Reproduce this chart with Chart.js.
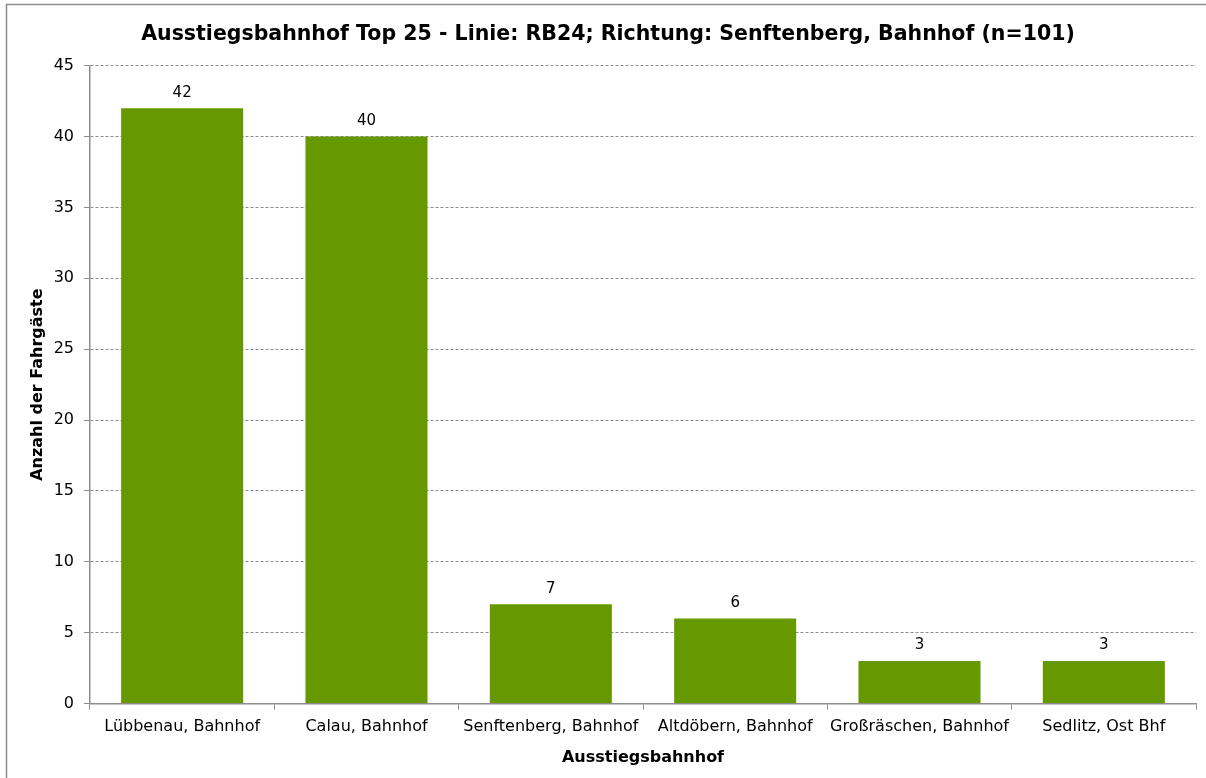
<!DOCTYPE html>
<html>
<head>
<meta charset="utf-8">
<script src="https://cdn.jsdelivr.net/npm/chart.js@4"></script>
<style>
html,body{margin:0;padding:0;background:#fff;}
#wrap{position:relative;width:1206px;height:778px;}
</style>
</head>
<body>
<div id="wrap"><canvas id="c" width="1206" height="778"></canvas></div>
<script>
const categories = ["Lübbenau, Bahnhof","Calau, Bahnhof","Senftenberg, Bahnhof","Altdöbern, Bahnhof","Großräschen, Bahnhof","Sedlitz, Ost Bhf"];
const values = [42, 40, 7, 6, 3, 3];
const yTicks = [0, 5, 10, 15, 20, 25, 30, 35, 40, 45];
const titleText = "Ausstiegsbahnhof Top 25 - Linie: RB24; Richtung: Senftenberg, Bahnhof (n=101)";
const xTitle = "Ausstiegsbahnhof";
const yTitle = "Anzahl der Fahrgäste";

const FONT = "'DejaVu Sans', Verdana, sans-serif";

const borderPlugin = {
  id: 'outerBorder',
  beforeDraw(chart) {
    const ctx = chart.ctx;
    ctx.save();
    ctx.fillStyle = '#fff';
    ctx.fillRect(0, 0, chart.width, chart.height);
    ctx.strokeStyle = '#8c8c8c';
    ctx.lineWidth = 1.5;
    ctx.strokeRect(6.5, 4.5, 1300, 900);
    ctx.restore();
  }
};

const labelPlugin = {
  id: 'valueLabels',
  afterDatasetsDraw(chart) {
    const ctx = chart.ctx;
    const meta = chart.getDatasetMeta(0);
    ctx.save();
    ctx.font = "15px " + FONT;
    ctx.fillStyle = '#000';
    ctx.textAlign = 'center';
    ctx.textBaseline = 'bottom';
    meta.data.forEach((bar, i) => {
      ctx.fillText(String(values[i]), bar.x, bar.y - 8);
    });
    ctx.restore();
  }
};

new Chart(document.getElementById('c'), {
  type: 'bar',
  data: {
    labels: categories,
    datasets: [{
      data: values,
      backgroundColor: '#669900',
      borderWidth: 0,
      barPercentage: 0.662,
      categoryPercentage: 1.0
    }]
  },
  options: {
    responsive: false,
    animation: false,
    layout: { padding: { left: 20, right: 10, top: 10, bottom: 11 } },
    plugins: {
      legend: { display: false },
      tooltip: { enabled: false },
      title: {
        display: true,
        text: titleText,
        color: '#000',
        font: { family: FONT, size: 20.5, weight: 'bold' },
        padding: { top: 12, bottom: 19 }
      }
    },
    scales: {
      x: {
        grid: {
          display: true,
          drawOnChartArea: false,
          drawTicks: true,
          tickLength: 6,
          color: '#8c8c8c',
          offset: true
        },
        border: { display: true, color: '#8c8c8c', width: 1.5 },
        ticks: {
          color: '#000',
          font: { family: FONT, size: 16 },
          padding: 8,
          maxRotation: 0,
          autoSkip: false
        },
        title: {
          display: true,
          text: xTitle,
          color: '#000',
          font: { family: FONT, size: 16, weight: 'bold' },
          padding: { top: 3, bottom: 0 }
        }
      },
      y: {
        min: 0,
        max: 45,
        afterBuildTicks(scale) { scale.ticks = yTicks.map(v => ({ value: v })); },
        afterFit(scale) { scale.width = 70; },
        grid: {
          display: true,
          drawTicks: true,
          tickLength: 6,
          color: '#8c8c8c',
          tickBorderDash: [],
          tickColor: '#8c8c8c'
        },
        border: { display: true, color: '#8c8c8c', width: 1.5, dash: [3, 2] },
        ticks: {
          color: '#000',
          font: { family: FONT, size: 16 },
          padding: 10
        },
        title: {
          display: true,
          text: yTitle,
          color: '#000',
          font: { family: FONT, size: 16, weight: 'bold' },
          padding: { top: 8, bottom: 6 }
        }
      }
    }
  },
  plugins: [borderPlugin, labelPlugin]
});
</script>
</body>
</html>
